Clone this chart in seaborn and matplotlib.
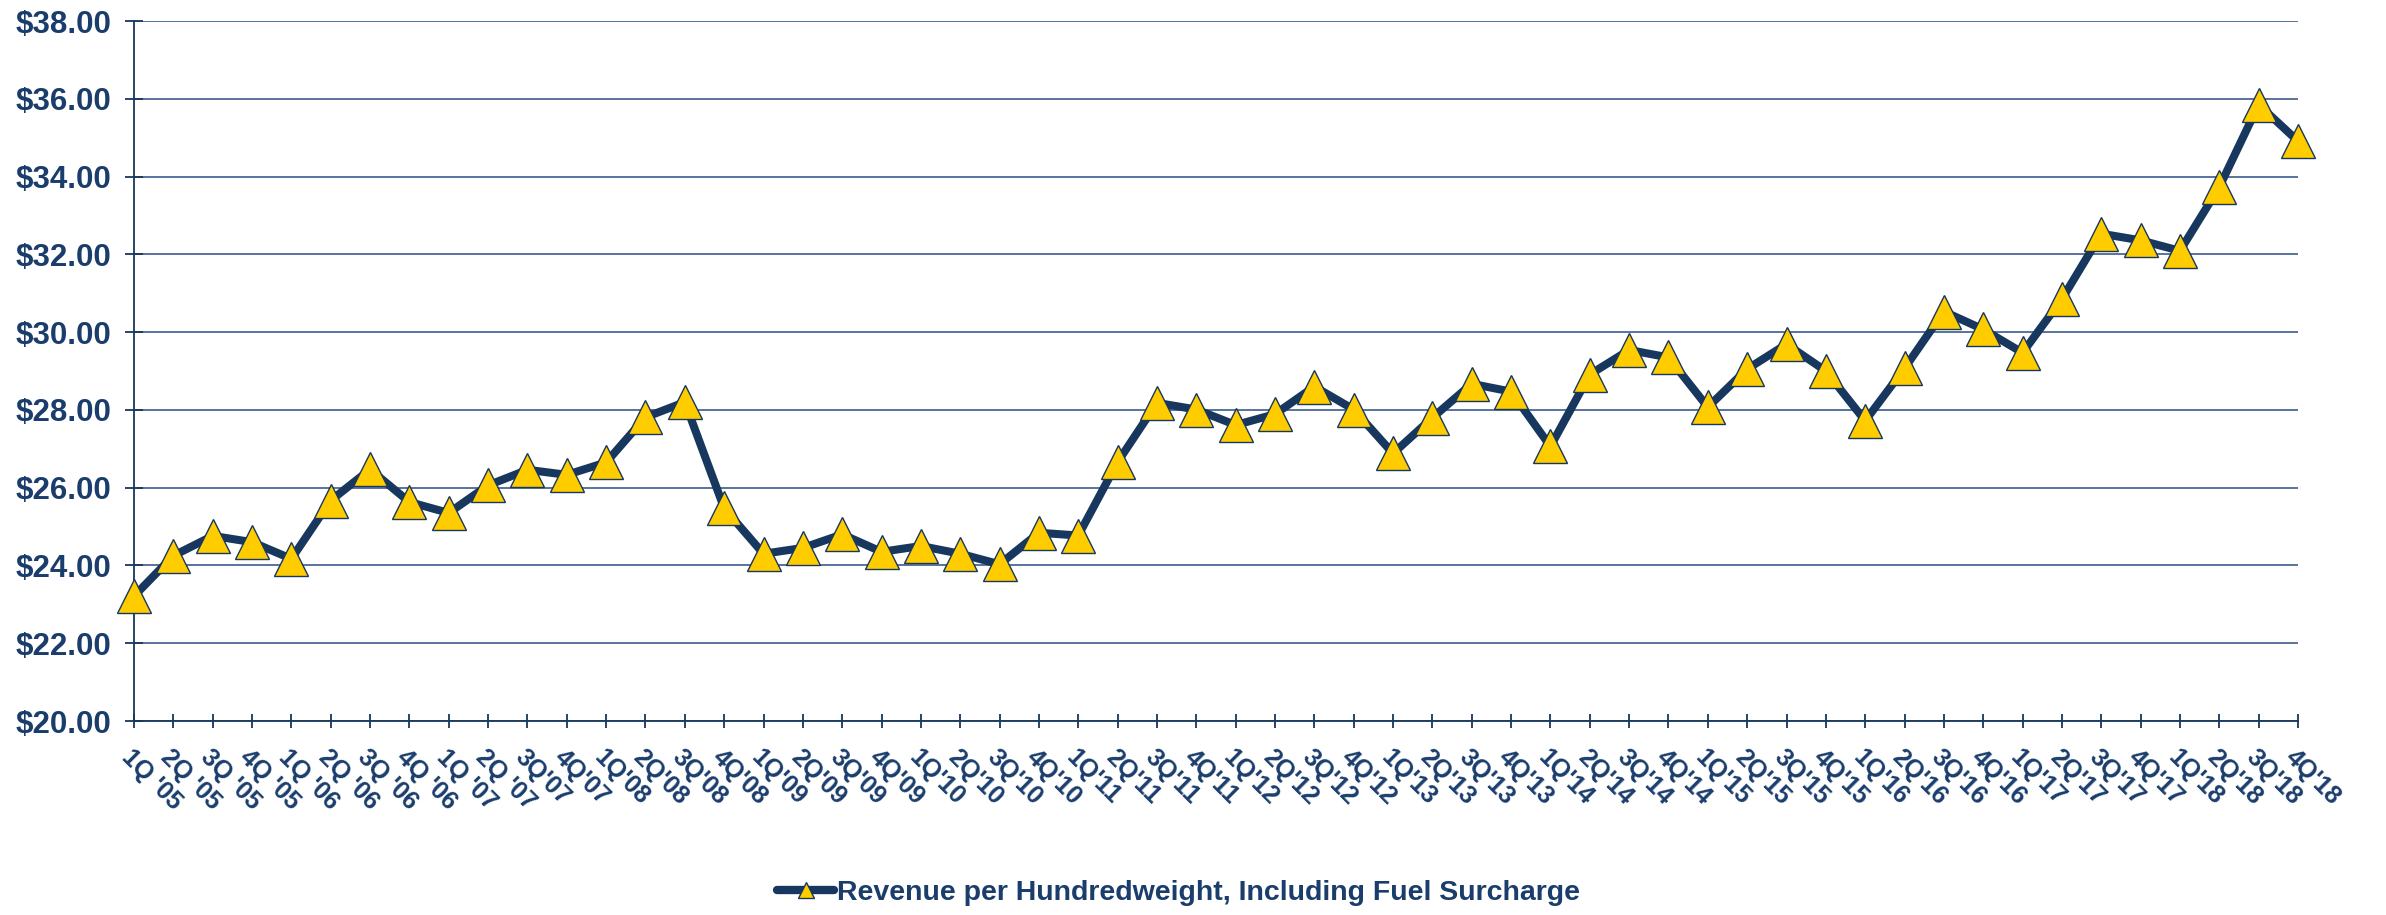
import matplotlib
matplotlib.use("Agg")
import matplotlib.pyplot as plt
from matplotlib.lines import Line2D
import seaborn as sns
import pandas as pd

quarters = [
    "1Q '05", "2Q '05", "3Q '05", "4Q '05", "1Q '06", "2Q '06", "3Q '06", "4Q '06",
    "1Q '07", "2Q '07", "3Q'07", "4Q'07", "1Q'08", "2Q'08", "3Q'08", "4Q'08",
    "1Q'09", "2Q'09", "3Q'09", "4Q'09", "1Q'10", "2Q'10", "3Q'10", "4Q'10",
    "1Q'11", "2Q'11", "3Q'11", "4Q'11", "1Q'12", "2Q'12", "3Q'12", "4Q'12",
    "1Q'13", "2Q'13", "3Q'13", "4Q'13", "1Q'14", "2Q'14", "3Q'14", "4Q'14",
    "1Q'15", "2Q'15", "3Q'15", "4Q'15", "1Q'16", "2Q'16", "3Q'16", "4Q'16",
    "1Q'17", "2Q'17", "3Q'17", "4Q'17", "1Q'18", "2Q'18", "3Q'18", "4Q'18",
]
revenue = [
    23.21, 24.25, 24.76, 24.60, 24.17, 25.67, 26.47, 25.63,
    25.35, 26.06, 26.46, 26.33, 26.65, 27.81, 28.20, 25.47,
    24.30, 24.45, 24.80, 24.35, 24.50, 24.30, 24.03, 24.84,
    24.77, 26.66, 28.18, 28.01, 27.61, 27.89, 28.60, 28.01,
    26.88, 27.80, 28.67, 28.47, 27.06, 28.91, 29.54, 29.35,
    28.07, 29.05, 29.69, 29.00, 27.72, 29.07, 30.53, 30.07,
    29.47, 30.85, 32.53, 32.36, 32.09, 33.73, 35.85, 34.91,
]
yticks = [20, 22, 24, 26, 28, 30, 32, 34, 36, 38]
series_name = "Revenue per Hundredweight, Including Fuel Surcharge"

navy = "#17375E"
text_c = "#1A3D6C"
gold = "#FFCC00"
grid_c = "#4A6896"

sns.set_style("white")
plt.rcParams["font.family"] = ["Liberation Sans", "DejaVu Sans"]
plt.rcParams["font.weight"] = "bold"

df = pd.DataFrame({"idx": list(range(len(quarters))), "value": revenue})

fig = plt.figure(figsize=(23.86, 9.15), dpi=100)
ax = fig.add_axes([134 / 2386, 1 - 721 / 915, (2298 - 134) / 2386, (721 - 21) / 915])

sns.lineplot(data=df, x="idx", y="value", ax=ax, color=navy, linewidth=5.8,
             marker="^", markersize=24, markerfacecolor=gold,
             markeredgecolor=navy, markeredgewidth=1.0, zorder=5)
for ln in ax.lines:
    ln.set_clip_on(False)

ax.set_xlim(0, len(quarters) - 1)
ax.set_ylim(20, 38)
ax.set_yticks(yticks)
ax.set_yticklabels([f"${v:.2f}" for v in yticks], fontsize=22.5, fontweight="bold", color=text_c)
ax.set_xticks(range(len(quarters)))
ax.set_xticklabels(quarters, fontsize=18, fontweight="bold", color=text_c,
                   rotation=-45, ha="left", va="top", rotation_mode="anchor")
ax.set_xlabel("")
ax.set_ylabel("")

ax.yaxis.grid(True, color=grid_c, linewidth=1.3)
ax.xaxis.grid(False)
ax.set_axisbelow(True)
for s in ["top", "right"]:
    ax.spines[s].set_visible(False)
for s in ["left", "bottom"]:
    ax.spines[s].set_color(navy)
    ax.spines[s].set_linewidth(1.3)
ax.tick_params(axis="y", direction="inout", length=13, width=1.3, color=navy, pad=10, left=True)
ax.tick_params(axis="x", direction="inout", length=10, width=1.3, color=navy, pad=12, bottom=True)

handle = Line2D([0], [0], color=navy, linewidth=6, marker="^", markersize=11,
                markerfacecolor=gold, markeredgecolor=navy, markeredgewidth=1.0,
                solid_capstyle="round")
leg = fig.legend([handle], [series_name], loc="center", bbox_to_anchor=(0.494, 0.024),
                 frameon=False, handlelength=2.0, handletextpad=0.1,
                 prop={"size": 20.5, "weight": "bold"})
for t in leg.get_texts():
    t.set_color(text_c)

fig.savefig("out.png", dpi=100)
